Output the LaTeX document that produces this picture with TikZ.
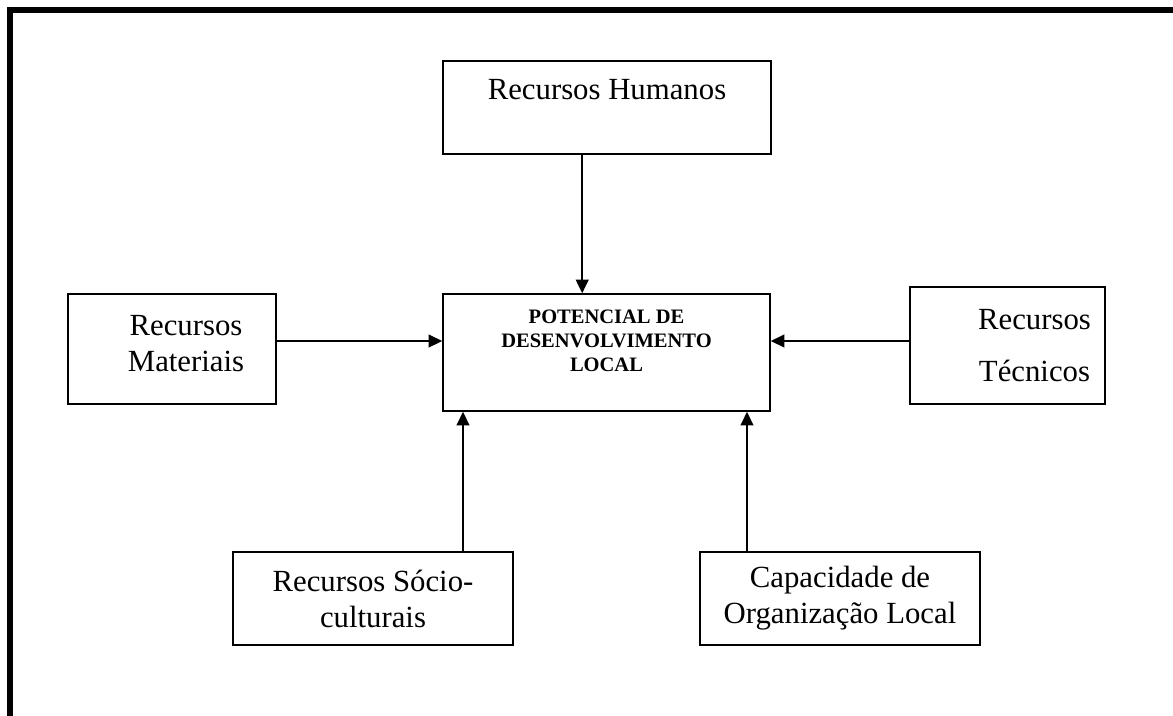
\documentclass[tikz,border=0pt]{standalone}
\usepackage{fontspec}
\setmainfont{Liberation Serif}
\usetikzlibrary{arrows.meta}
\newdimen\pxu
\pxu=0.39pt
\tikzset{
  caixa/.style={draw,line width=1.6\pxu,align=center,inner sep=0pt,font=\fontsize{12}{14}\selectfont},
  seta/.style={line width=1.6\pxu,-{Triangle[length=5.3pt,width=5pt]}}
}

\begin{document}
\begin{tikzpicture}[x=1\pxu,y=-1\pxu]
\useasboundingbox (0,0) rectangle (1173,715);
\draw[line width=6\pxu] (10,740) -- (10,10) -- (1200,10);
\node[caixa,minimum width=328\pxu,minimum height=93\pxu] (hum) at (607,107.5) {Recursos Humanos\\\mbox{}};
\node[caixa,minimum width=327\pxu,minimum height=117\pxu,font=\fontsize{8}{9.2}\selectfont\bfseries] (cen) at (606.5,352.5) {POTENCIAL DE\\DESENVOLVIMENTO\\LOCAL\\\mbox{}};
\node[caixa,minimum width=208\pxu,minimum height=110\pxu] (mat) at (172,349) {\hspace*{28\pxu}Recursos\\\hspace*{28\pxu}Materiais\\[-9.3pt]\mbox{}};
\node[caixa,minimum width=195\pxu,minimum height=117\pxu] (tec) at (1007.5,345.5) {\hspace*{54\pxu}Recursos\\[6pt]\hspace*{54\pxu}Técnicos};
\node[caixa,minimum width=280\pxu,minimum height=93\pxu] (soc) at (373,598.5) {Recursos Sócio-\\culturais};
\node[caixa,minimum width=280\pxu,minimum height=93\pxu] (cap) at (840,598.5) {Capacidade de\\Organização Local};
\draw[seta] ([xshift=140\pxu]hum.south west) -- ([xshift=140\pxu]cen.north west);
\draw[seta] ([yshift=8\pxu]mat.east) -- ([yshift=8\pxu]mat.east -| cen.west);
\draw[seta] ([yshift=4.5\pxu]tec.west) -- ([yshift=4.5\pxu]tec.west -| cen.east);
\draw[seta] ([xshift=90\pxu]soc.north) -- ([xshift=90\pxu]soc.north |- cen.south);
\draw[seta] ([xshift=-93\pxu]cap.north) -- ([xshift=-93\pxu]cap.north |- cen.south);
\end{tikzpicture}
\end{document}
